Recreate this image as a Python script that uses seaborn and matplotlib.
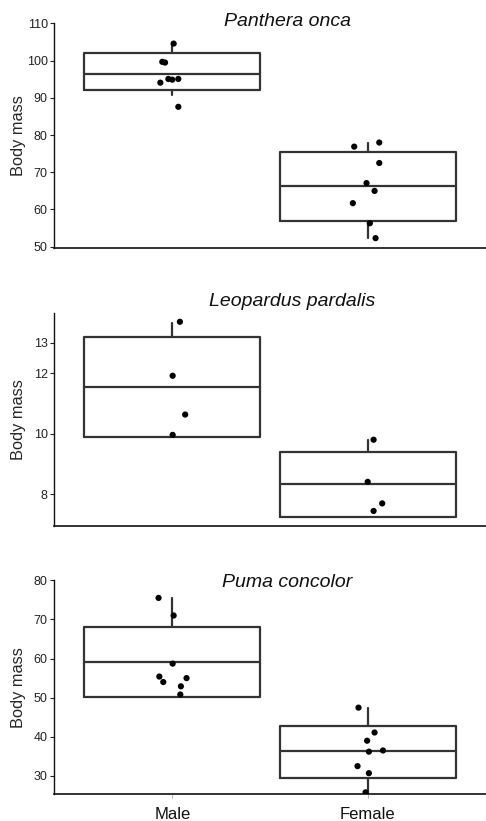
import matplotlib
matplotlib.use("Agg")
import matplotlib.pyplot as plt
import seaborn as sns
import pandas as pd

sns.set_theme(style="ticks")
plt.rcParams['font.family'] = ['Liberation Sans', 'DejaVu Sans']

categories = ["Male", "Female"]
species = ["Panthera onca", "Leopardus pardalis", "Puma concolor"]

# Box statistics (q1, median, q3, lower whisker, upper whisker) per category
onca_q1 = [92.0, 56.8]
onca_med = [96.4, 66.2]
onca_q3 = [102.0, 75.4]
onca_lo = [90.8, 52.3]
onca_hi = [104.6, 77.8]

pard_q1 = [9.89, 7.26]
pard_med = [11.53, 8.34]
pard_q3 = [13.18, 9.40]
pard_lo = [9.89, 7.26]
pard_hi = [13.65, 9.79]

puma_q1 = [50.2, 29.4]
puma_med = [59.05, 36.3]
puma_q3 = [68.07, 42.85]
puma_lo = [50.2, 25.4]
puma_hi = [75.4, 47.3]

# Individual (jittered) observations
onca_sex = ["Male"] * 8 + ["Female"] * 8
onca_mass = [104.6, 99.7, 99.5, 94.1, 95.1, 94.9, 95.1, 87.6,
             76.9, 78.0, 72.5, 67.1, 65.0, 61.7, 56.3, 52.3]
onca_jit = [0.007, -0.051, -0.037, -0.061, -0.020, 0.000, 0.031, 0.031,
            -0.070, 0.058, 0.058, -0.007, 0.034, -0.077, 0.010, 0.039]

pard_sex = ["Male"] * 4 + ["Female"] * 4
pard_mass = [13.69, 11.91, 10.63, 9.96, 9.80, 8.41, 7.70, 7.45]
pard_jit = [0.039, 0.002, 0.066, 0.002, 0.029, -0.001, 0.073, 0.029]

puma_sex = ["Male"] * 8 + ["Female"] * 8
puma_mass = [75.5, 71.0, 58.7, 55.4, 54.0, 55.0, 52.9, 50.8,
             47.45, 41.1, 39.0, 36.2, 36.5, 32.5, 30.7, 25.8]
puma_jit = [-0.070, 0.007, 0.002, -0.066, -0.046, 0.073, 0.044, 0.041,
            -0.048, 0.034, -0.004, 0.005, 0.077, -0.053, 0.005, -0.012]

y_limits = [(49.73, 110.0), (6.964, 13.99), (25.3, 80.0)]
y_ticks = [[50, 60, 70, 80, 90, 100, 110], [8, 10, 12, 13], [30, 40, 50, 60, 70, 80]]

W, H = 486, 821
fig = plt.figure(figsize=(W / 100, H / 100), dpi=100)

# axes boxes in pixels: (top, bottom)
ax_px = [(23.5, 247.7), (312.7, 525.7), (580.3, 794.3)]
title_px = [(287, 21), (292, 301.7), (287, 582.3)]

panels = [
    (onca_q1, onca_med, onca_q3, onca_lo, onca_hi, onca_sex, onca_mass, onca_jit),
    (pard_q1, pard_med, pard_q3, pard_lo, pard_hi, pard_sex, pard_mass, pard_jit),
    (puma_q1, puma_med, puma_q3, puma_lo, puma_hi, puma_sex, puma_mass, puma_jit),
]

line_col = "#333333"
for i, (q1, med, q3, lo, hi, sex, mass, jit) in enumerate(panels):
    top, bot = ax_px[i]
    ax = fig.add_axes([54 / W, 1 - bot / H, (W - 54) / W, (bot - top) / H])
    stats = []
    for k in range(len(categories)):
        stats.append(dict(med=med[k], q1=q1[k], q3=q3[k],
                          whislo=lo[k], whishi=hi[k], fliers=[]))
    ax.bxp(stats, positions=[0, 1], widths=0.9, showcaps=False,
           showfliers=False, patch_artist=False,
           boxprops=dict(color=line_col, linewidth=1.6),
           medianprops=dict(color=line_col, linewidth=1.6),
           whiskerprops=dict(color=line_col, linewidth=1.6))
    df = pd.DataFrame({"sex": sex, "mass": mass, "jit": jit})
    df["x"] = df["sex"].map({c: j for j, c in enumerate(categories)}) + df["jit"]
    sns.scatterplot(data=df, x="x", y="mass", ax=ax, color="black",
                    s=20, edgecolor="none", zorder=3, legend=False)
    ax.set_xlim(-0.6045, 1.6036)
    ax.set_ylim(*y_limits[i])
    ax.set_yticks(y_ticks[i])
    ax.set_yticklabels([str(t) for t in y_ticks[i]])
    ax.set_ylabel("Body mass", fontsize=11.8)
    ax.set_xlabel("")
    sns.despine(ax=ax)
    ax.spines["left"].set_linewidth(1.0)
    ax.spines["left"].set_color("#111111")
    ax.spines["bottom"].set_linewidth(1.3)
    ax.spines["bottom"].set_color("#222222")
    ax.tick_params(axis="y", length=3, width=0.8, labelsize=9, pad=1.5,
                   colors="#222222")
    ax.set_xticks([0, 1])
    if i == 2:
        ax.set_xticklabels(categories, fontsize=12)
        ax.tick_params(axis="x", length=3, width=0.6, color="#aaaaaa",
                       pad=6, labelcolor="#111111")
    else:
        ax.set_xticklabels([])
        ax.tick_params(axis="x", length=0)
    ax.yaxis.set_label_coords(-0.064, 0.5)
    tx, ty = title_px[i]
    fig.text(tx / W, 1 - ty / H, species[i], fontsize=14, style="italic",
             ha="center", va="center", color="#111111")

fig.savefig("out.png", dpi=100)
